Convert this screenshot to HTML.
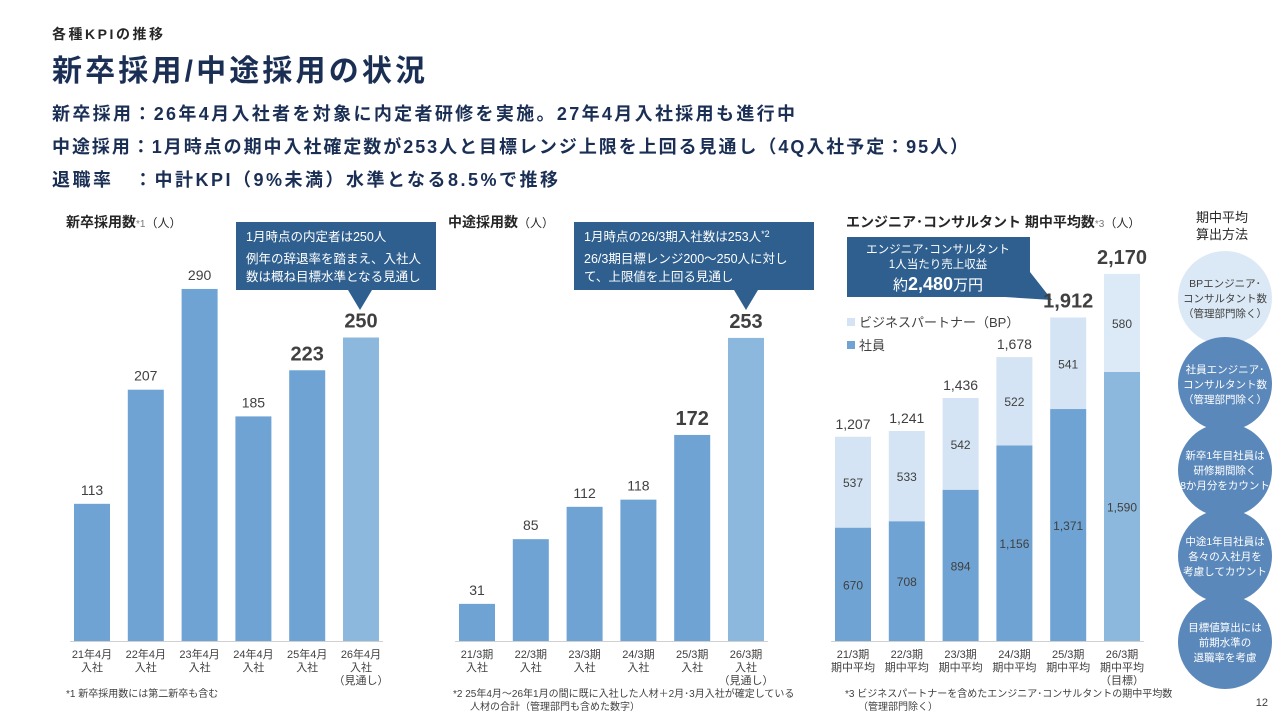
<!DOCTYPE html>
<html><head><meta charset="utf-8">
<style>
body{margin:0;width:1280px;height:720px;background:#fff;overflow:hidden;font-family:"Liberation Sans","Noto Sans CJK JP",sans-serif;}
svg{position:absolute;left:0;top:0}
</style></head><body>
<svg id="s" width="1280" height="720" xmlns="http://www.w3.org/2000/svg" font-family="Liberation Sans, Noto Sans CJK JP, sans-serif">
<text x="52" y="39" font-size="14" font-weight="bold" fill="#262626" textLength="111" lengthAdjust="spacing">各種KPIの推移</text>
<text x="52" y="81" font-size="30" font-weight="bold" fill="#1b2f55" textLength="373" lengthAdjust="spacing">新卒採用/中途採用の状況</text>
<g font-size="18" font-weight="bold" fill="#1b2f55">
<text x="52" y="120" textLength="743" lengthAdjust="spacing">新卒採用：26年4月入社者を対象に内定者研修を実施。27年4月入社採用も進行中</text>
<text x="52" y="153" textLength="916" lengthAdjust="spacing">中途採用：1月時点の期中入社確定数が253人と目標レンジ上限を上回る見通し（4Q入社予定：95人）</text>
<text x="52" y="186" textLength="506" lengthAdjust="spacing">退職率　：中計KPI（9%未満）水準となる8.5%で推移</text>
</g>
<g font-size="14" fill="#262626">
<text x="66" y="227"><tspan font-weight="bold">新卒採用数</tspan><tspan font-size="10" fill="#777">*1</tspan><tspan font-size="12">（人）</tspan></text>
<text x="448" y="227"><tspan font-weight="bold">中途採用数</tspan><tspan font-size="12">（人）</tspan></text>
<text x="846" y="227"><tspan font-weight="bold">エンジニア･コンサルタント 期中平均数</tspan><tspan font-size="10" fill="#777">*3</tspan><tspan font-size="12">（人）</tspan></text>
<text x="1222" y="222" text-anchor="middle" font-size="13">期中平均</text>
<text x="1222" y="239" text-anchor="middle" font-size="13">算出方法</text>
</g>
<g>
<path d="M236 222H436V290H372L360 310L348 290H236Z" fill="#2e5f8e"/>
<text x="246" y="241" font-size="12.5" fill="#fff">1月時点の内定者は250人</text>
<text x="246" y="263" font-size="12.5" fill="#fff">例年の辞退率を踏まえ、入社人</text>
<text x="246" y="281" font-size="12.5" fill="#fff">数は概ね目標水準となる見通し</text>
</g>
<g>
<path d="M574 222H814V290H758L746 310L734 290H574Z" fill="#2e5f8e"/>
<text x="584" y="241" font-size="12.5" fill="#fff">1月時点の26/3期入社数は253人<tspan font-size="9" dy="-4">*2</tspan></text>
<text x="584" y="263" font-size="12.5" fill="#fff">26/3期目標レンジ200～250人に対し</text>
<text x="584" y="281" font-size="12.5" fill="#fff">て、上限値を上回る見通し</text>
</g>
<g>
<path d="M847 237H1030V272L1052 300L1005 297H847Z" fill="#2e5f8e"/>
<text x="938" y="253" font-size="11.5" fill="#fff" text-anchor="middle">エンジニア･コンサルタント</text>
<text x="938" y="268" font-size="11.5" fill="#fff" text-anchor="middle">1人当たり売上収益</text>
<text x="938" y="290" font-size="15" fill="#fff" text-anchor="middle">約<tspan font-size="18" font-weight="bold">2,480</tspan>万円</text>
</g>
<g>
<rect x="847" y="318" width="8" height="8" fill="#d4e4f4"/><text x="859" y="327" font-size="13" fill="#404040">ビジネスパートナー（BP）</text>
<rect x="847" y="341" width="8" height="8" fill="#6fa3d3"/><text x="859" y="350" font-size="13" fill="#404040">社員</text>
</g>
<g id="charts"></g>
<g id="circles"></g>
<g font-size="10" fill="#404040">
<text x="66" y="697">*1 新卒採用数には第二新卒も含む</text>
<text x="453" y="697">*2 25年4月～26年1月の間に既に入社した人材＋2月･3月入社が確定している</text>
<text x="470" y="710">人材の合計（管理部門も含めた数字）</text>
<text x="845" y="697">*3 ビジネスパートナーを含めたエンジニア･コンサルタントの期中平均数</text>
<text x="858" y="710">（管理部門除く）</text>
<text x="1268" y="706" text-anchor="end" font-size="11">12</text>
</g>
</svg>
<script>
const c1Cats=[["21年4月","入社"],["22年4月","入社"],["23年4月","入社"],["24年4月","入社"],["25年4月","入社"],["26年4月","入社","（見通し）"]];
const c1Vals=[113,207,290,185,223,250];
const c2Cats=[["21/3期","入社"],["22/3期","入社"],["23/3期","入社"],["24/3期","入社"],["25/3期","入社"],["26/3期","入社","（見通し）"]];
const c2Vals=[31,85,112,118,172,253];
const c3Cats=[["21/3期","期中平均"],["22/3期","期中平均"],["23/3期","期中平均"],["24/3期","期中平均"],["25/3期","期中平均"],["26/3期","期中平均","（目標）"]];
const c3Emp=[670,708,894,1156,1371,1590];
const c3BP=[537,533,542,522,541,580];
const c3Tot=["1,207","1,241","1,436","1,678","1,912","2,170"];
const boldIdx1=[4,5],boldIdx2=[4,5],boldIdx3=[4,5];
const methodTexts=[["BPエンジニア･","コンサルタント数","（管理部門除く）"],["社員エンジニア･","コンサルタント数","（管理部門除く）"],["新卒1年目社員は","研修期間除く","8か月分をカウント"],["中途1年目社員は","各々の入社月を","考慮してカウント"],["目標値算出には","前期水準の","退職率を考慮"]];
const NS="http://www.w3.org/2000/svg";
const g=document.getElementById('charts');
function el(t,a,p){const e=document.createElementNS(NS,t);for(const k in a)e.setAttribute(k,a[k]);(p||g).appendChild(e);return e;}
function txt(x,y,s,a,p){const e=el('text',Object.assign({x:x,y:y,'text-anchor':'middle'},a),p);e.textContent=s;return e;}
const base=641;
function axisLine(x0,x1){const l=el('line',{x1:x0,x2:x1,y1:base+0.5,y2:base+0.5,stroke:'#d0d0d0'});

}
function cats(cs,x0,step){cs.forEach((c,i)=>c.forEach((s,j)=>{const t=txt(x0+i*step,base+17+j*13,s,{'font-size':11,fill:'#404040'});

}));}
function simple(vals,cs,x0,step,k,bold,prefix){
 axisLine(x0-step/2+5,x0+step*5.5-5);
 vals.forEach((v,i)=>{const h=v*k,x=x0+i*step;
  const r=el('rect',{x:x-18,y:base-h,width:36,height:h,fill:i==5?'#8db8dd':'#6fa3d3'});
  
  
  const b=bold.includes(i);
  const t=txt(x,base-h-(b?10:9),String(v),{'font-size':b?20:14,'font-weight':b?'bold':'normal',fill:'#404040'});
  
  
 });
 cats(cs,x0,step);
}
simple(c1Vals,c1Cats,92,53.8,1.214,boldIdx1,'new-grad');
simple(c2Vals,c2Cats,477,53.8,1.198,boldIdx2,'mid-career');
const k3=0.1692,x3=853,s3=53.8;
axisLine(x3-s3/2+5,x3+s3*5.5-5);
c3Emp.forEach((e,i)=>{const x=x3+i*s3,he=e*k3,hb=c3BP[i]*k3;
 const r1=el('rect',{x:x-18,y:base-he,width:36,height:he,fill:i==5?'#8db8dd':'#6fa3d3'});
 
 
 const r2=el('rect',{x:x-18,y:base-he-hb,width:36,height:hb,fill:i==5?'#dce9f6':'#d4e4f4'});
 
 
 const a=txt(x,base-he/2+5,e.toLocaleString('en-US'),{'font-size':12,fill:'#404040'});
 
 
 const b=txt(x,base-he-hb/2+5,String(c3BP[i]),{'font-size':12,fill:'#404040'});
 
 
 const bd=boldIdx3.includes(i);
 const t=txt(x,base-he-hb-(bd?10:8),c3Tot[i],{'font-size':bd?20:14,'font-weight':bd?'bold':'normal',fill:'#404040'});
 
 
});
cats(c3Cats,x3,s3);
const cg=document.getElementById('circles');
methodTexts.forEach((ls,i)=>{const cy=298+i*86;
 const c=el('circle',{cx:1225,cy:cy,r:47,fill:i==0?'#dbe8f5':'#5b88bb'},cg);
 
 
 ls.forEach((s,j)=>{const t=txt(1225,cy-11+j*15,s,{'font-size':10.5,fill:i==0?'#404040':'#fff'},cg);
  
  });
});
</script>
</body></html>
